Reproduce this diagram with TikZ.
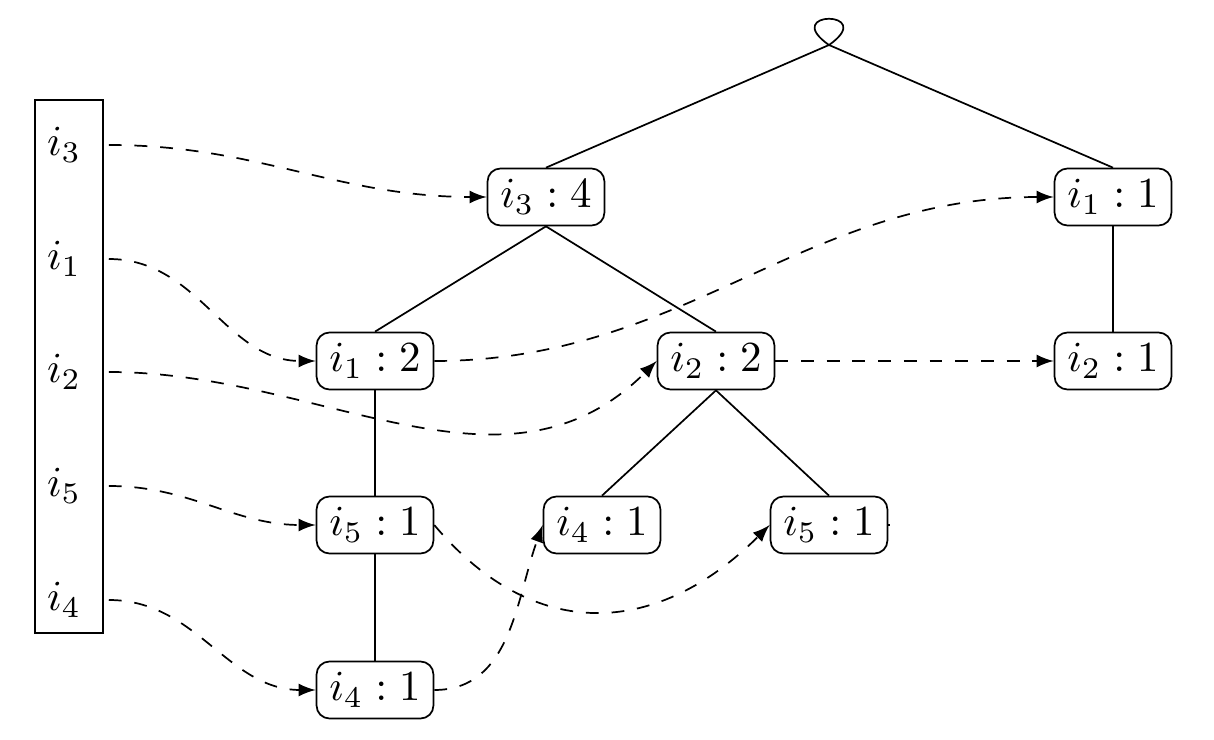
\documentclass[tikz,border=0pt]{standalone}
\usepackage{pgf,tikz}
\usetikzlibrary{arrows}

\begin{document}
\begin{tikzpicture}[x=0.82cm,y=0.82cm,
      item/.style={draw,rounded corners=3pt,inner xsep=3pt,inner ysep=2.6pt},
      head/.style={minimum width=0.72cm,inner sep=0pt},
      link/.style={dashed,-latex}]
      \useasboundingbox (0,0) rectangle (12.14,7.40);
      % header table
      \draw (0.35,1.07) rectangle (1.03,6.40);
      \node[head] (h3) at (0.64,5.95) {$i_3$}; \node[head] (h1) at (0.64,4.81) {$i_1$}; \node[head] (h2) at (0.64,3.68) {$i_2$}; \node[head] (h5) at (0.64,2.54) {$i_5$}; \node[head] (h4) at (0.64,1.40) {$i_4$};
      % tree
      \coordinate (root) at (8.29,6.95);
      \node[item] (i34) at (5.46,5.43) {$i_3:4$}; \node[item] (i11) at (11.13,5.43) {$i_1:1$};
      \node[item] (i12) at (3.75,3.79) {$i_1:2$}; \node[item] (i22) at (7.16,3.79) {$i_2:2$}; \node[item] (i21) at (11.13,3.79) {$i_2:1$};
      \node[item] (i5a) at (3.75,2.15) {$i_5:1$}; \node[item] (i4b) at (6.02,2.15) {$i_4:1$}; \node[item] (i5c) at (8.29,2.15) {$i_5:1$};
      \node[item] (i4a) at (3.75,0.50) {$i_4:1$};
      \coordinate (i5c end) at (8.90,2.15);

      \draw (root) .. controls +(-0.5,0.35) and +(0.5,0.35) .. (root);
      \draw (root) -- (i34.north); \draw (root) -- (i11.north); \draw (i34.south) -- (i12.north); \draw (i34.south) -- (i22.north); \draw (i11.south) -- (i21.north); \draw (i12.south) -- (i5a.north); \draw (i5a.south) -- (i4a.north); \draw (i22.south) -- (i4b.north); \draw (i22.south) -- (i5c.north);

      % node links
      \draw[link] (h3) to[out=0,in=180] (i34); \draw[link] (h1) to[out=0,in=180] (i12); \draw[link] (h2) to[out=0,in=-135] (i22.west); \draw[link] (h5) to[out=0,in=180] (i5a); \draw[link] (h4) to[out=0,in=180] (i4a);
      \draw[link] (i12) to[out=0,in=180] (i11); \draw[link] (i22) -- (i21); \draw[link] (i5a.east) to[out=-50,in=-135,looseness=1.2] (i5c.west); \draw[link] (i4a) to[out=0,in=-110] (i4b.west);
      \draw[dashed] (i5c.east) -- (i5c end);
    \end{tikzpicture}
\end{document}
